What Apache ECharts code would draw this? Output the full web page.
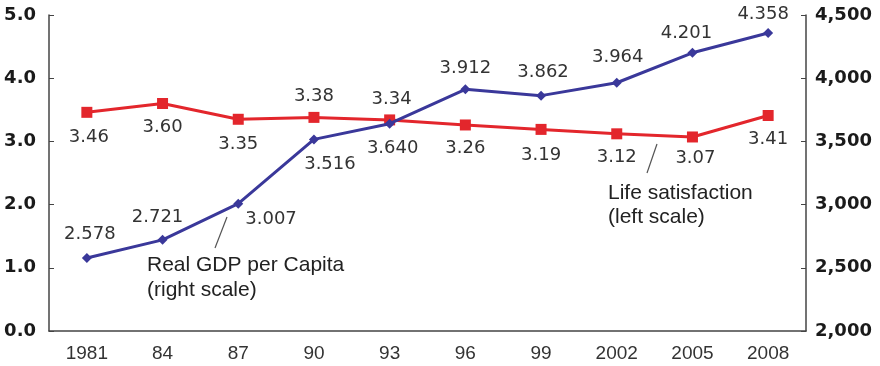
<!DOCTYPE html>
<html>
<head>
<meta charset="utf-8">
<script src="https://cdn.jsdelivr.net/npm/echarts@6/dist/echarts.min.js"></script>
<style>
  html, body { margin: 0; padding: 0; background: #fff; }
  #chart { width: 880px; height: 366px; }
</style>
</head>
<body>
<div id="chart"></div>
<script>
// 年份
var years = ['1981', '84', '87', '90', '93', '96', '99', '2002', '2005', '2008'];
// 生活满意度 (左轴)
var lifeSatisfaction = [3.46, 3.60, 3.35, 3.38, 3.34, 3.26, 3.19, 3.12, 3.07, 3.41];
// 人均实际GDP (右轴)
var gdpPerCapita = [2578, 2721, 3007, 3516, 3640, 3912, 3862, 3964, 4201, 4358];

// 标签位置: [position, dx, dy]
var redLabelPos = [
  ['bottom', 2, 6], ['bottom', 0, 4], ['bottom', 0, 6], ['top', 0, -2], ['top', 2, -1],
  ['bottom', 0, 4], ['bottom', 0, 6], ['bottom', 0, 4], ['bottom', 3, 2], ['bottom', 0, 4]
];
var blueLabelPos = [
  ['top', 3, -5], ['top', -5, -4], ['right', -3, 16], ['bottom', 16, 6], ['bottom', 3, 6],
  ['top', 0, -2], ['top', 2, -4], ['top', 1, -6], ['top', -6, 0], ['top', -5, 0]
];

var labelFont = { fontFamily: 'DejaVu Sans', fontSize: 18, color: '#333' };

function buildData(values, pos, fmt) {
  return values.map(function (v, i) {
    return {
      value: v,
      label: Object.assign({
        show: true,
        position: pos[i][0],
        offset: [pos[i][1], pos[i][2]],
        formatter: fmt
      }, labelFont)
    };
  });
}

var chart = echarts.init(document.getElementById('chart'), null, { renderer: 'canvas' });

var axisLabelBold = { fontFamily: 'DejaVu Sans', fontWeight: 'bold', fontSize: 18, color: '#1a1a1a' };

chart.setOption({
  animation: false,
  grid: { left: 49, right: 74, top: 15, bottom: 35, containLabel: false },
  xAxis: {
    type: 'category',
    data: years,
    boundaryGap: true,
    axisLine: { lineStyle: { color: '#444', width: 1.5 } },
    axisTick: { inside: true, length: 6, lineStyle: { color: '#444' } },
    axisLabel: { fontFamily: 'Liberation Sans', fontSize: 19, color: '#333', margin: 13 }
  },
  yAxis: [{
    type: 'value',
    min: 0, max: 5, interval: 1,
    splitLine: { show: false },
    axisLine: { show: true, lineStyle: { color: '#444', width: 1.5 } },
    axisTick: { show: true, inside: true, length: 5, lineStyle: { color: '#444' } },
    axisLabel: Object.assign({ margin: 13, formatter: function (v) { return v.toFixed(1); } }, axisLabelBold)
  }, {
    type: 'value',
    min: 2000, max: 4500, interval: 500,
    position: 'right',
    splitLine: { show: false },
    axisLine: { show: true, lineStyle: { color: '#444', width: 1.5 } },
    axisTick: { show: true, inside: true, length: 5, lineStyle: { color: '#444' } },
    axisLabel: Object.assign({ margin: 9, formatter: function (v) { return v.toLocaleString('en-US'); } }, axisLabelBold)
  }],
  series: [{
    name: 'Life satisfaction',
    type: 'line',
    yAxisIndex: 0,
    symbol: 'rect',
    symbolSize: 11,
    itemStyle: { color: '#e3262c' },
    lineStyle: { color: '#e3262c', width: 3 },
    data: buildData(lifeSatisfaction, redLabelPos, function (p) { return p.value.toFixed(2); }),
    z: 3
  }, {
    name: 'Real GDP per Capita',
    type: 'line',
    yAxisIndex: 1,
    symbol: 'diamond',
    symbolSize: 10,
    itemStyle: { color: '#3a389a' },
    lineStyle: { color: '#3a389a', width: 3 },
    data: buildData(gdpPerCapita, blueLabelPos, function (p) { return (p.value / 1000).toFixed(3); }),
    z: 4
  }],
  graphic: [
    // 注释: 人均GDP
    { type: 'line', shape: { x1: 227, y1: 217, x2: 215, y2: 248 }, style: { stroke: '#555', lineWidth: 1.2 } },
    { type: 'text', left: 147, top: 253, style: { text: 'Real GDP per Capita\n(right scale)', fontFamily: 'Liberation Sans', fontSize: 21, lineHeight: 25, fill: '#222' } },
    // 注释: 生活满意度
    { type: 'line', shape: { x1: 657, y1: 144, x2: 647, y2: 173 }, style: { stroke: '#555', lineWidth: 1.2 } },
    { type: 'text', left: 608, top: 181, style: { text: 'Life satisfaction\n(left scale)', fontFamily: 'Liberation Sans', fontSize: 21, lineHeight: 24, fill: '#222' } }
  ]
});
</script>
</body>
</html>
